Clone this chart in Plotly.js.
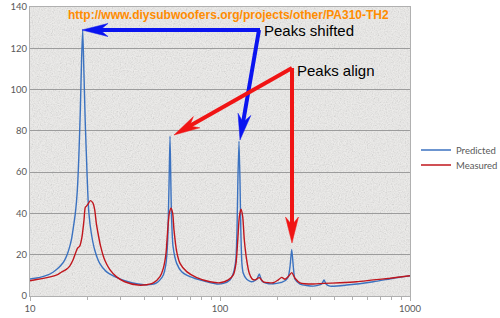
<!DOCTYPE html>
<html>
<head>
<meta charset="utf-8">
<script src="https://cdn.plot.ly/plotly-3.0.1.min.js"></script>
<style>
html,body{margin:0;padding:0;background:#fff;}
#chart{width:500px;height:318px;}
</style>
</head>
<body>
<div id="chart"></div>
<script>
// ---- Data (frequency in Hz, level) ----
const predFreq = [10.0, 11.29, 12.43, 13.21, 14.04, 14.74, 15.22, 15.75, 16.18, 16.54, 16.84, 17.32, 17.74, 18.05, 18.40, 18.69, 18.94, 19.20, 19.52, 19.88, 20.12, 20.42, 21.02, 21.91, 23.28, 25.21, 27.92, 32.81, 37.03, 40.30, 43.86, 46.61, 48.33, 50.31, 51.98, 53.06, 53.51, 53.97, 54.56, 55.10, 55.50, 56.60, 59.16, 62.87, 69.51, 81.69, 96.07, 104.1, 112.9, 117.5, 121.1, 122.9, 124.2, 125.9, 127.4, 128.7, 130.4, 132.6, 138.2, 146.9, 156.1, 161.1, 165.8, 176.2, 198.9, 219.8, 228.8, 233.6, 238.5, 243.1, 248.2, 263.7, 309.8, 343.0, 352.7, 361.4, 379.3, 464.4, 641.1, 816.9, 1000];
const predVal  = [8.2, 9.0, 10.2, 11.5, 13.4, 15.5, 17.4, 20.5, 23.9, 27.5, 32, 40, 51, 66, 90, 115, 129, 110, 85, 64, 51, 40, 30.4, 22.3, 15.8, 11.8, 9.4, 6.9, 5.8, 5.4, 5.6, 6.5, 7.8, 10.2, 15.8, 27, 40, 56, 77.5, 56, 40, 24, 15.8, 11.8, 9.4, 7.3, 5.8, 6.1, 7.8, 11, 17.4, 32, 56, 75, 56, 32, 15.8, 11, 8.1, 6.9, 8.1, 10.7, 7.4, 6.1, 6.1, 7.4, 9.4, 14.2, 22.6, 14.2, 8.1, 5.8, 4.8, 5.8, 7.8, 5.8, 4.8, 5.3, 6.9, 8.6, 9.8];

const measFreq = [10.0, 12.43, 14.04, 14.61, 15.53, 16.18, 16.84, 17.74, 18.27, 18.78, 19.24, 19.55, 20.03, 20.77, 21.46, 21.91, 22.34, 22.80, 23.56, 24.73, 26.27, 28.46, 31.51, 37.03, 39.47, 44.57, 48.33, 50.31, 51.98, 53.06, 54.09, 55.23, 56.37, 57.26, 59.16, 61.59, 66.78, 75.42, 88.62, 100, 110.6, 117.5, 121.4, 124.0, 126.4, 129.0, 131.7, 134.3, 138.2, 142.6, 147.4, 152.9, 161.1, 169.0, 190.8, 202.7, 211.3, 219.8, 228.8, 238.5, 248.2, 263.7, 309.8, 349.7, 428.1, 524.2, 641.1, 785.1, 1000];
const measVal  = [7.4, 9.0, 10.5, 11.5, 12.9, 14.5, 17.4, 23, 24.2, 28.7, 36.8, 43, 44, 46.2, 45, 41.7, 35.2, 30.4, 23.9, 17.4, 12.9, 9.4, 6.9, 5.3, 5.3, 6.4, 9.4, 13.4, 20.7, 32, 40, 42.5, 40, 32, 21.5, 15.8, 11.8, 8.9, 6.9, 6.4, 7.8, 10.2, 15.8, 27, 38.4, 42, 38.4, 27, 17.4, 11, 8.3, 7.8, 8.9, 6.9, 6.4, 7.8, 9.0, 8.1, 9.4, 11.3, 8.6, 6.4, 5.8, 6.1, 6.4, 6.9, 7.8, 8.6, 9.8];

const seriesNames = ["Predicted", "Measured"];
const seriesColors = ["#3b72c0", "#c0161d"];
const yTickVals = [0, 20, 40, 60, 80, 100, 120, 140];
const xTickVals = [10, 100, 1000];
const xTickText = ["10", "100", "1000"];
const xMinorVals = [20, 30, 40, 50, 60, 70, 80, 90, 200, 300, 400, 500, 600, 700, 800, 900];

// ---- Layout geometry helpers (pixel -> paper) ----
const W = 500, H = 318;
const M = {l: 30, r: 90, t: 7, b: 22, autoexpand: false};
const PW = W - M.l - M.r, PH = H - M.t - M.b;
const px = x => (x - M.l) / PW;
const py = y => (H - M.b - y) / PH;

function arrowShapes(tail, tip, color) {
  const dx = tip[0] - tail[0], dy = tip[1] - tail[1];
  const len = Math.hypot(dx, dy);
  const ux = dx / len, uy = dy / len;
  const nx = -uy, ny = ux;
  const L = 26, Wd = 6.5, notch = 8;
  const b1 = [tip[0] - L * ux + Wd * nx, tip[1] - L * uy + Wd * ny];
  const b2 = [tip[0] - L * ux - Wd * nx, tip[1] - L * uy - Wd * ny];
  const n = [tip[0] - (L - notch) * ux, tip[1] - (L - notch) * uy];
  const P = p => px(p[0]).toFixed(5) + ',' + py(p[1]).toFixed(5);
  return [
    {type: 'line', xref: 'paper', yref: 'paper', x0: px(tail[0]), y0: py(tail[1]), x1: px(n[0]), y1: py(n[1]),
     line: {color: color, width: 4}, layer: 'above'},
    {type: 'path', xref: 'paper', yref: 'paper', path: 'M' + P(tip) + ' L' + P(b1) + ' L' + P(n) + ' L' + P(b2) + ' Z',
     fillcolor: color, line: {color: color, width: 0.5}, layer: 'above'}
  ];
}

const blue = '#0a14f0', red = '#f01414';
const shapes = [].concat(
  arrowShapes([260, 30], [82, 30], blue),
  arrowShapes([259, 30], [240, 140], blue),
  arrowShapes([292, 68], [174, 135], red),
  arrowShapes([292, 68], [292, 243], red)
);

// granite-like texture for the plot area
const svgTex = "<svg xmlns='http://www.w3.org/2000/svg' width='380' height='289'>" +
  "<filter id='n' x='0' y='0' width='100%' height='100%'><feTurbulence type='fractalNoise' baseFrequency='0.85' numOctaves='3' stitchTiles='stitch'/>" +
  "<feColorMatrix type='saturate' values='0'/></filter>" +
  "<rect width='100%' height='100%' fill='#f1f0ee'/>" +
  "<rect width='100%' height='100%' filter='url(#n)' opacity='0.45'/></svg>";
const texURI = 'data:image/svg+xml;charset=utf-8,' + encodeURIComponent(svgTex);

const traces = [
  {x: predFreq, y: predVal, name: seriesNames[0], type: 'scatter', mode: 'lines', legend: 'legend',
   line: {color: seriesColors[0], width: 1.4, shape: 'spline', smoothing: 0.6}},
  {x: measFreq, y: measVal, name: seriesNames[1], type: 'scatter', mode: 'lines', legend: 'legend2',
   line: {color: seriesColors[1], width: 1.4, shape: 'spline', smoothing: 0.6}}
];

const tickFont = {family: 'Lato, Liberation Sans, sans-serif', size: 9.5, color: '#595959'};
const legendFont = {family: 'Lato, Liberation Sans, sans-serif', size: 9.5, color: '#595959'};

const layout = {
  width: W, height: H,
  margin: M,
  paper_bgcolor: '#ffffff',
  plot_bgcolor: '#ebeae8',
  showlegend: true,
  legend: {x: px(416), y: py(150), xref: 'paper', yref: 'paper', xanchor: 'left', yanchor: 'middle',
           font: legendFont, bgcolor: 'rgba(0,0,0,0)', borderwidth: 0},
  legend2: {x: px(416), y: py(165), xref: 'paper', yref: 'paper', xanchor: 'left', yanchor: 'middle',
           font: legendFont, bgcolor: 'rgba(0,0,0,0)', borderwidth: 0},
  xaxis: {type: 'log', range: [1, 3], tickvals: xTickVals, ticktext: xTickText, showgrid: false,
          ticks: 'outside', ticklen: 4, tickcolor: '#b0b0b0',
          minor: {tickvals: xMinorVals, ticks: 'outside', ticklen: 3, tickcolor: '#b0b0b0', showgrid: false},
          showline: true, linecolor: '#b0b0b0', linewidth: 1, mirror: true,
          tickfont: tickFont, zeroline: false, fixedrange: true},
  yaxis: {range: [0, 140], tickvals: yTickVals, showgrid: true, gridcolor: '#9c9c9c', gridwidth: 1,
          showline: true, linecolor: '#b0b0b0', linewidth: 1, mirror: true, ticks: '',
          tickfont: tickFont, zeroline: false, fixedrange: true},
  images: [{source: texURI, xref: 'paper', yref: 'paper', x: 0, y: 1, sizex: 1, sizey: 1,
            sizing: 'stretch', xanchor: 'left', yanchor: 'top', layer: 'below'}],
  shapes: shapes,
  annotations: [
    {text: 'http://www.diysubwoofers.org/projects/other/PA310-TH2', xref: 'paper', yref: 'paper',
     x: px(228.5), y: py(15), xanchor: 'center', yanchor: 'middle', showarrow: false,
     font: {family: 'Liberation Sans, Arial, sans-serif', size: 12, color: '#ff8c00', weight: 'bold'}},
    {text: 'Peaks shifted', xref: 'paper', yref: 'paper', x: px(262), y: py(30), xanchor: 'left', yanchor: 'middle',
     showarrow: false, font: {family: 'Liberation Sans, Arial, sans-serif', size: 15, color: '#000000'}},
    {text: 'Peaks align', xref: 'paper', yref: 'paper', x: px(295), y: py(70), xanchor: 'left', yanchor: 'middle',
     showarrow: false, font: {family: 'Liberation Sans, Arial, sans-serif', size: 15, color: '#000000'}}
  ]
};

Plotly.newPlot('chart', traces, layout, {displayModeBar: false, staticPlot: true});
</script>
</body>
</html>
